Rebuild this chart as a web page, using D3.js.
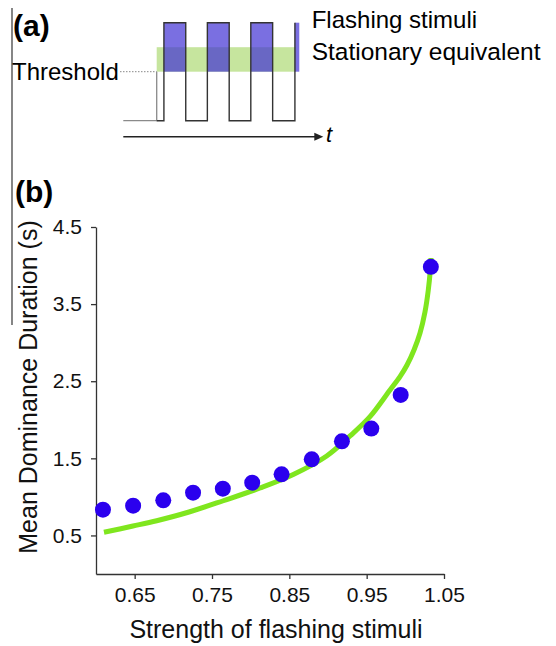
<!DOCTYPE html>
<html>
<head>
<meta charset="utf-8">
<script src="https://cdn.jsdelivr.net/npm/d3@7/dist/d3.min.js"></script>
<style>
  html, body { margin: 0; padding: 0; background: #fff; }
  svg { display: block; font-family: "Liberation Sans", Arial, Helvetica, sans-serif; }
</style>
</head>
<body>
<svg id="fig" width="556" height="646"></svg>
<script>
// ---- Panel (a): schematic of flashing stimuli vs. a stationary equivalent ----
const pulseOnsets = [1.86, 3.85, 5.84, 7.86];   // time units
const pulseWidth = 1.0;
const sequenceEnd = 8.06;
const stationaryStart = 1.53;
const stationaryEnd = 7.9;
const levelThreshold = 1.0;
const levelStationary = 1.5;
const levelFlash = 2.0;
const timeMax = 9.16;

// ---- Panel (b): mean dominance duration vs. strength of flashing stimuli ----
const strength = [0.609, 0.648, 0.687, 0.7255, 0.764, 0.802, 0.840, 0.879, 0.918, 0.956, 0.994, 1.033];
const duration = [0.834, 0.886, 0.955, 1.055, 1.106, 1.184, 1.292, 1.487, 1.721, 1.886, 2.322, 3.984];
const fitX = [0.6103, 0.6478, 0.6785, 0.7203, 0.7646, 0.8121, 0.8551, 0.8983, 0.9285, 0.9543, 0.9802, 0.9931, 1.0022, 1.0112, 1.0190, 1.0254, 1.0297, 1.0323, 1.0332];
const fitY = [0.541, 0.622, 0.691, 0.804, 0.950, 1.115, 1.290, 1.530, 1.790, 2.040, 2.386, 2.559, 2.710, 2.905, 3.125, 3.398, 3.683, 3.942, 4.098];
const xTicks = [0.65, 0.75, 0.85, 0.95, 1.05];
const yTicks = [0.5, 1.5, 2.5, 3.5, 4.5];

const svg = d3.select("#fig");

// left separator line
svg.append("line")
  .attr("x1", 12).attr("x2", 12).attr("y1", 8).attr("y2", 325)
  .attr("stroke", "#444").attr("stroke-width", 1.3);

// ===== Panel (a) =====
const tS = d3.scaleLinear().domain([0, timeMax]).range([123.3, 323.3]);
const lS = d3.scaleLinear().domain([0, 2]).range([120.7, 22.7]);

const a = svg.append("g");

a.append("text").attr("x", 13).attr("y", 35.5)
  .attr("font-size", 30).attr("font-weight", "bold").text("(a)");

// stationary-equivalent band
a.append("rect")
  .attr("x", tS(stationaryStart)).attr("width", tS(stationaryEnd) - tS(stationaryStart))
  .attr("y", lS(levelStationary)).attr("height", lS(levelThreshold) - lS(levelStationary))
  .attr("fill", "#c6e59e");

// supra-threshold part of each flash
a.selectAll("rect.flash").data(pulseOnsets).join("rect")
  .attr("class", "flash")
  .attr("x", d => tS(d))
  .attr("width", d => tS(Math.min(d + pulseWidth, sequenceEnd)) - tS(d))
  .attr("y", lS(levelFlash))
  .attr("height", lS(levelThreshold) - lS(levelFlash))
  .attr("fill", "#4232d4").attr("fill-opacity", 0.7);

// threshold dotted line
a.append("line")
  .attr("x1", 120).attr("x2", tS(stationaryStart))
  .attr("y1", lS(levelThreshold)).attr("y2", lS(levelThreshold))
  .attr("stroke", "#888").attr("stroke-width", 1).attr("stroke-dasharray", "1.5,1.5");

// baseline before onset and the stationary edge
a.append("path")
  .attr("d", d3.line()([[tS(0), lS(0)], [tS(stationaryStart), lS(0)], [tS(stationaryStart), lS(levelThreshold)]]))
  .attr("fill", "none").attr("stroke", "#8a8a8a").attr("stroke-width", 1.3);

// square wave of the flashing stimuli
const wave = [[tS(stationaryStart), lS(0)]];
pulseOnsets.forEach((on, i) => {
  wave.push([tS(on), lS(0)], [tS(on), lS(levelFlash)]);
  if (i < pulseOnsets.length - 1) {
    wave.push([tS(on + pulseWidth), lS(levelFlash)], [tS(on + pulseWidth), lS(0)]);
  }
});
a.append("path").attr("d", d3.line()(wave))
  .attr("fill", "none").attr("stroke", "#333").attr("stroke-width", 1.4);

// time arrow
const arrowY = 136.7;
a.append("line")
  .attr("x1", tS(0)).attr("x2", tS(timeMax) - 6)
  .attr("y1", arrowY).attr("y2", arrowY)
  .attr("stroke", "#222").attr("stroke-width", 1.4);
a.append("path")
  .attr("d", `M${tS(timeMax)},${arrowY} L${tS(timeMax) - 9},${arrowY - 4} L${tS(timeMax) - 9},${arrowY + 4} Z`)
  .attr("fill", "#222");
a.append("text").attr("x", 326).attr("y", 141.7)
  .attr("font-size", 22).attr("font-style", "italic").text("t");

a.append("text").attr("x", 12).attr("y", 80).attr("font-size", 24).text("Threshold");
a.append("text").attr("x", 311.7).attr("y", 28).attr("font-size", 24).text("Flashing stimuli");
a.append("text").attr("x", 311.7).attr("y", 60).attr("font-size", 24.5).text("Stationary equivalent");

// ===== Panel (b) =====
svg.append("text").attr("x", 15).attr("y", 201.5)
  .attr("font-size", 30).attr("font-weight", "bold").text("(b)");

const x = d3.scaleLinear().domain([0.6, 1.05]).range([96, 444]);
const y = d3.scaleLinear().domain([0, 4.5]).range([574, 227]);

const gx = svg.append("g").attr("transform", "translate(0,574)")
  .call(d3.axisBottom(x).tickValues(xTicks).tickFormat(d3.format(".2f"))
    .tickSize(5).tickSizeOuter(0).tickPadding(8));
const gy = svg.append("g").attr("transform", "translate(96,0)")
  .call(d3.axisLeft(y).tickValues(yTicks).tickFormat(d3.format(".1f"))
    .tickSize(5).tickSizeOuter(0).tickPadding(9));
[gx, gy].forEach(g => {
  g.attr("font-size", 21).attr("font-family", "'Liberation Sans', Arial, sans-serif");
  g.selectAll("path.domain").attr("stroke", "#333").attr("stroke-width", 1.3);
  g.selectAll(".tick line").attr("stroke", "#333").attr("stroke-width", 1.3);
  g.selectAll(".tick text").attr("fill", "#111");
});

svg.append("text")
  .attr("x", 276).attr("y", 637.5).attr("text-anchor", "middle")
  .attr("font-size", 25).attr("fill", "#111").text("Strength of flashing stimuli");
svg.append("text")
  .attr("transform", "translate(37,387) rotate(-90)").attr("text-anchor", "middle")
  .attr("font-size", 25).attr("fill", "#111").text("Mean Dominance Duration (s)");

// fitted curve
svg.append("path")
  .datum(fitX.map((v, i) => [v, fitY[i]]))
  .attr("d", d3.line().x(d => x(d[0])).y(d => y(d[1])).curve(d3.curveCatmullRom.alpha(0.5)))
  .attr("fill", "none").attr("stroke", "#7fe61e").attr("stroke-width", 5);

// measured points
svg.selectAll("circle.pt").data(strength.map((v, i) => [v, duration[i]])).join("circle")
  .attr("class", "pt")
  .attr("cx", d => x(d[0])).attr("cy", d => y(d[1])).attr("r", 8)
  .attr("fill", "#2b00ee");
</script>
</body>
</html>
